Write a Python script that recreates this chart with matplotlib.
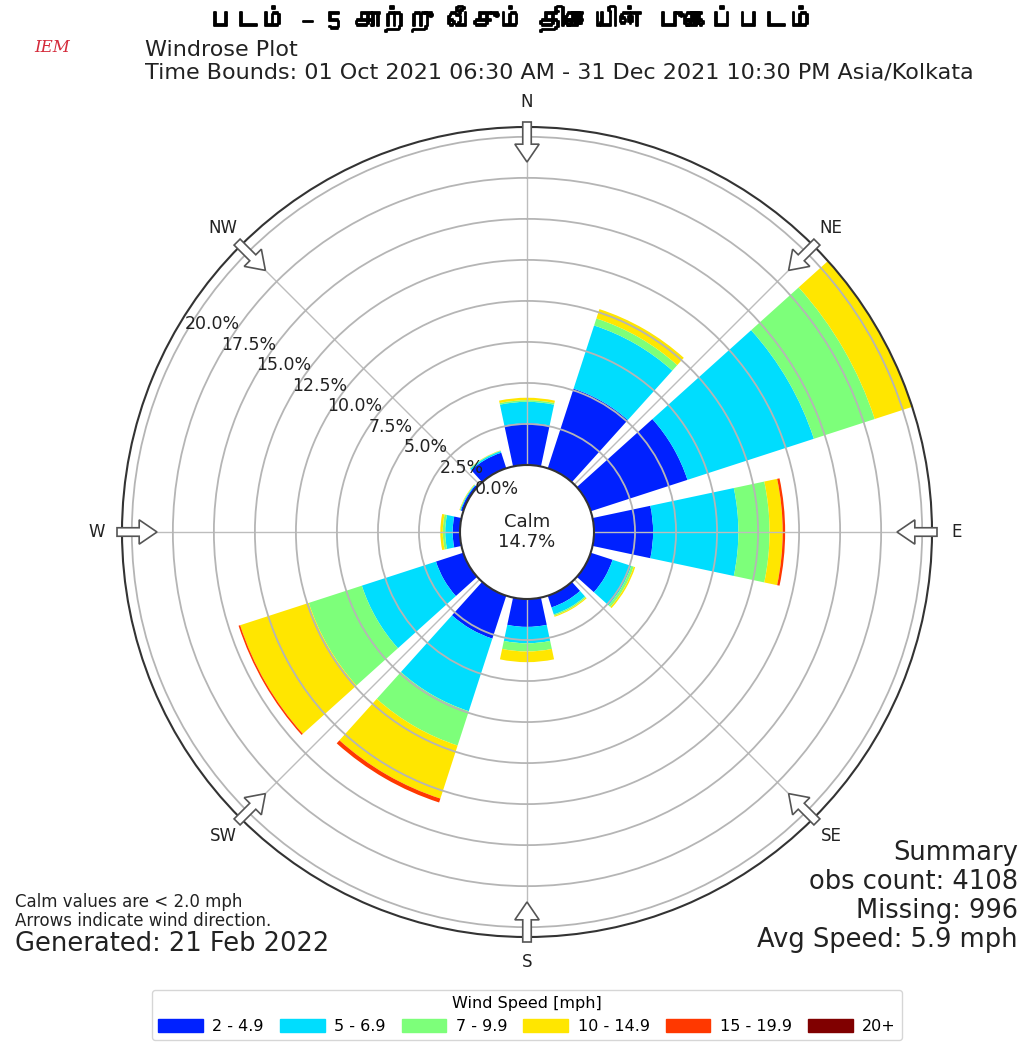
import numpy as np
import matplotlib
matplotlib.use('Agg')
import matplotlib.pyplot as plt
import matplotlib.patches as mpatches
import matplotlib.patheffects as pe
from matplotlib import font_manager, ft2font
from matplotlib.transforms import offset_copy

# sector centres (degrees from north, clockwise)
directions = [0, 30, 60, 90, 120, 150, 180, 210, 240, 270, 300, 330]

# frequency (%) per speed bin
speed_bins = ['2 - 4.9', '5 - 6.9', '7 - 9.9', '10 - 14.9', '15 - 19.9', '20+']
freq_2_5 = [2.55, 5.1, 6.2, 3.6, 1.4, 0.75, 1.7, 2.75, 1.75, 0.45, 0.15, 1.0]
freq_5_7 = [1.3, 4.05, 8.1, 5.2, 1.2, 0.45, 1.0, 4.65, 4.75, 0.45, 0.05, 0.1]
freq_7_10 = [0.1, 0.45, 3.9, 1.9, 0.15, 0.08, 0.5, 2.2, 3.4, 0.15, 0.02, 0.03]
freq_10_15 = [0.15, 0.6, 2.4, 0.8, 0.1, 0.07, 0.65, 3.4, 4.4, 0.15, 0.03, 0.02]
freq_15_20 = [0, 0, 0, 0.15, 0, 0, 0, 0.25, 0.1, 0, 0, 0]
freq_20 = [0, 0, 0, 0, 0, 0, 0, 0, 0, 0, 0, 0]

ring_ticks = [0.0, 2.5, 5.0, 7.5, 10.0, 12.5, 15.0, 17.5, 20.0]
compass = ['N', 'NE', 'E', 'SE', 'S', 'SW', 'W', 'NW']
calm_pct = 14.7

colors = [plt.cm.jet(v) for v in [0.16, 0.34, 0.5, 0.665, 0.85, 1.0]]


def tamil_font():
    for f in font_manager.fontManager.ttflist:
        try:
            if 0x0BAA in ft2font.FT2Font(f.fname).get_charmap():
                return f.name
        except Exception:
            pass
    return 'DejaVu Sans'


fig = plt.figure(figsize=(10.25, 10.52), dpi=100)
ax = fig.add_axes([122 / 1025, 115 / 1052, 810 / 1025, 810 / 1052], projection='polar')
ax.set_theta_zero_location('N')
ax.set_theta_direction(-1)

series = [freq_2_5, freq_5_7, freq_7_10, freq_10_15, freq_15_20, freq_20]
theta = np.radians(directions)
bottom = np.zeros(len(directions))
for vals, col, lab in zip(series, colors, speed_bins):
    vals = np.array(vals)
    ax.bar(theta, vals, width=np.radians(24), bottom=bottom, color=col,
           edgecolor='none', label=lab)
    bottom += vals

rmax = bottom.max()
ax.set_rorigin(-rmax * 67 / 338)
ax.set_ylim(0, rmax)

ax.set_yticks(ring_ticks[1:])
ax.set_yticklabels([])
ax.set_xticks(np.radians(np.arange(0, 360, 45)))
ax.set_xticklabels([])
ax.grid(True, color='#b5b5b5', linewidth=1.3)
ax.xaxis.grid(True, color='#bdbdbd', linewidth=1.0)
for sp in ax.spines.values():
    sp.set_color('#333333')
    sp.set_linewidth(1.5)

# ring labels
lab_tr = offset_copy(ax.transData, fig=fig, x=28, y=10, units='dots')
for t in ring_ticks:
    ax.text(np.radians(300), t, f'{t:.1f}%', transform=lab_tr, ha='center',
            va='center', fontsize=12.5, color='#222222')

# compass labels and arrows
for i, name in enumerate(compass):
    a = np.radians(i * 45)
    s, c = np.sin(a), np.cos(a)
    ax.text(0.5 + 430 / 810 * s, 0.5 + 430 / 810 * c, name, transform=ax.transAxes,
            ha='center', va='center', fontsize=12, color='#222222')
    r0 = 410 / 810
    r1 = 370 / 810
    arr = mpatches.FancyArrow(0.5 + r0 * s, 0.5 + r0 * c, (r1 - r0) * s, (r1 - r0) * c,
                              width=0.0105, head_width=0.03, head_length=0.022,
                              length_includes_head=True, fc='white', ec='#555555',
                              lw=1.2, transform=ax.transAxes, clip_on=False, zorder=5)
    ax.add_patch(arr)

ax.text(0, ax.get_rorigin(), f'Calm\n{calm_pct}%', ha='center', va='center',
        fontsize=13, color='#222222', linespacing=1.1)

# header
fig.text(0.5, 0.982, 'படம் – 5 காற்று வீசும் திசையின் புகைப்படம்', ha='center', va='center',
         fontsize=19, fontweight='bold', family=[tamil_font(), 'DejaVu Sans'],
         path_effects=[pe.withStroke(linewidth=1.3, foreground='black')])
fig.text(0.033, 0.955, 'IEM', ha='left', va='center', fontsize=12, color='#d42a3a',
         style='italic', family='DejaVu Serif')
fig.text(145 / 1025, 1 - 50 / 1052, 'Windrose Plot', ha='left', va='center',
         fontsize=16, color='#222222')
fig.text(145 / 1025, 1 - 73 / 1052,
         'Time Bounds: 01 Oct 2021 06:30 AM - 31 Dec 2021 10:30 PM Asia/Kolkata',
         ha='left', va='center', fontsize=16, color='#222222')

# footer notes
fig.text(15 / 1025, 1 - 902 / 1052, 'Calm values are < 2.0 mph', ha='left', va='center',
         fontsize=12, color='#222222')
fig.text(15 / 1025, 1 - 921 / 1052, 'Arrows indicate wind direction.', ha='left',
         va='center', fontsize=12, color='#222222')
fig.text(15 / 1025, 1 - 944 / 1052, 'Generated: 21 Feb 2022', ha='left', va='center',
         fontsize=18.5, color='#222222')
summary = ['Summary', 'obs count: 4108', 'Missing: 996', 'Avg Speed: 5.9 mph']
for i, line in enumerate(summary):
    fig.text(1018 / 1025, 1 - (853 + 29 * i) / 1052, line, ha='right', va='center',
             fontsize=18.5, color='#222222')

handles = [mpatches.Patch(color=c) for c in colors]
leg = fig.legend(handles, speed_bins, loc='center', bbox_to_anchor=(527 / 1025, 1 - 1015 / 1052),
                 ncol=6, title='Wind Speed [mph]', fontsize=11.5, title_fontsize=11.5,
                 handlelength=2.8, handleheight=0.9, columnspacing=1.0, handletextpad=0.6,
                 frameon=True, fancybox=True)
leg.get_frame().set_edgecolor('#cccccc')

fig.savefig('out.png', dpi=100)
